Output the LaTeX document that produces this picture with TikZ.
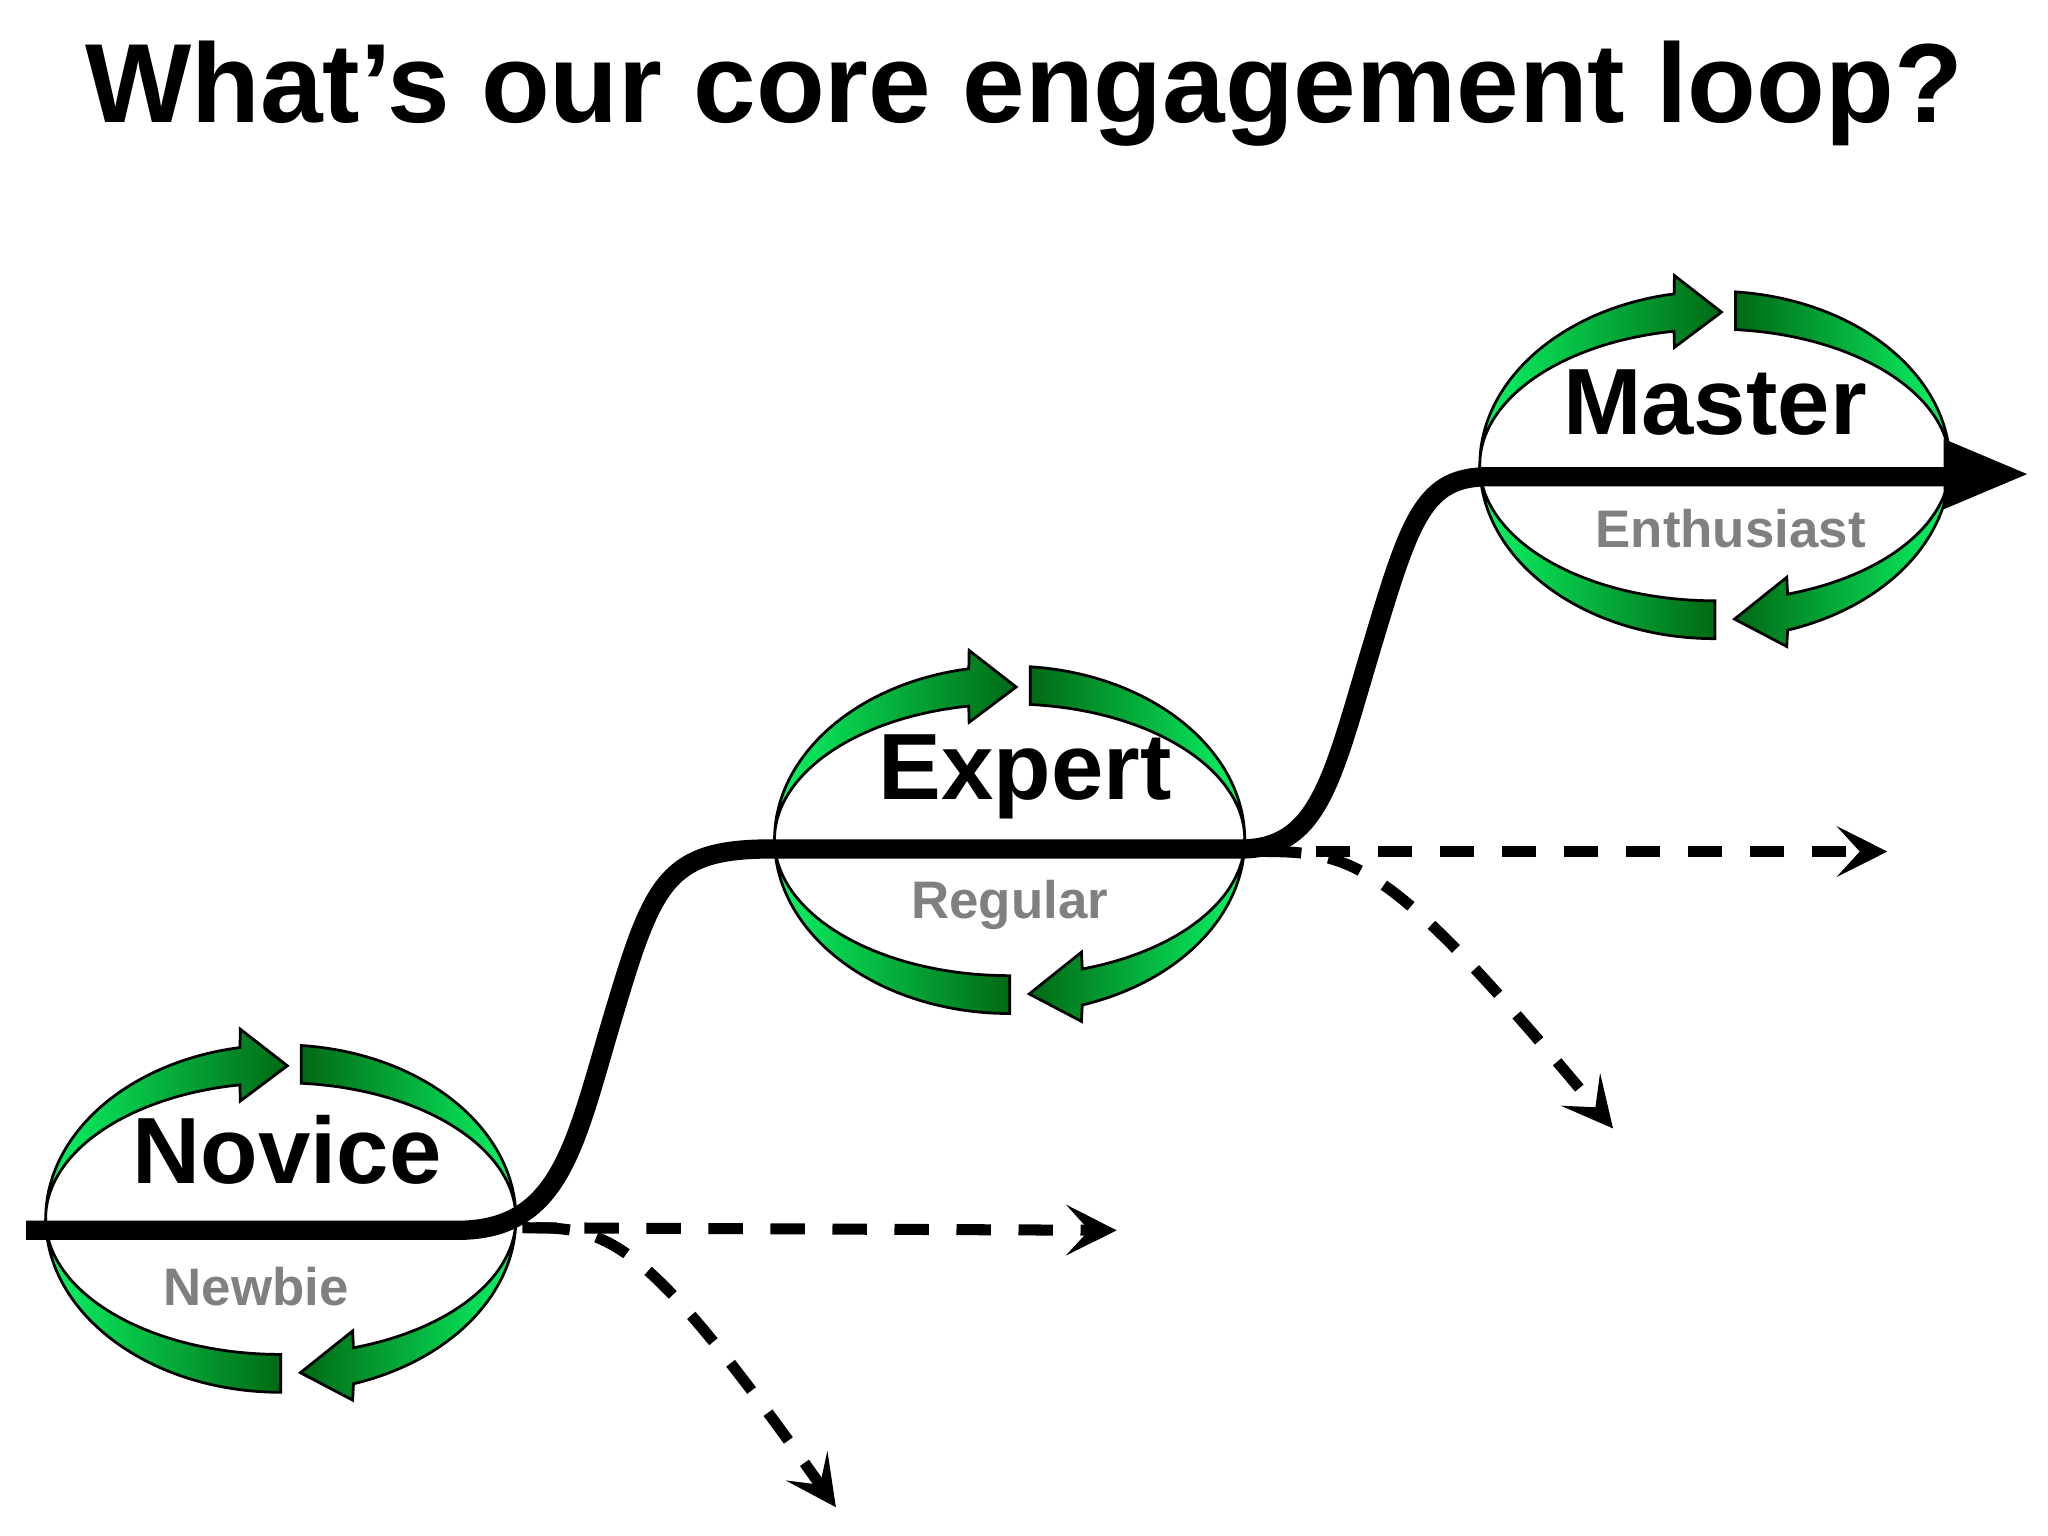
\documentclass[tikz,border=0pt]{standalone}
\usepackage{fontspec}
\setmainfont{Liberation Sans}
\usetikzlibrary{arrows.meta}
\definecolor{lg}{RGB}{10,245,100}
\definecolor{dg}{RGB}{0,105,20}
\definecolor{lblgray}{RGB}{128,128,128}
\tikzset{
  band/.style={draw=black, line width=0.6pt},
  stepline/.style={line width=4.2pt, black},
  dashline/.style={line width=2.4pt, dash pattern=on 7.5pt off 6pt, -{Stealth[length=11pt,width=11pt,inset=5pt]}},
  big/.style={font=\fontsize{20.5}{24}\selectfont\bfseries},
  small/.style={font=\fontsize{11.5}{14}\selectfont\bfseries, text=lblgray}
}
\newcommand\engloop[2]{%
\begin{scope}[shift={(#1,#2)}]
 \path[band, left color=lg, right color=dg] (-180,0) arc[start angle=180,end angle=100,x radius=180,y radius=133]
   -- (-31,145) -- (5,117) -- (-31,90) -- (-31.3,102.4)
   arc[start angle=100,end angle=180,x radius=180,y radius=104] -- cycle;
 \path[band, left color=dg, right color=lg] (15.7,132.5) arc[start angle=85,end angle=0,x radius=180,y radius=133]
   arc[start angle=0,end angle=85,x radius=180,y radius=104] -- cycle;
 \path[band, left color=dg, right color=lg] (180,0) arc[start angle=360,end angle=288,x radius=180,y radius=133]
   -- (55,-139) -- (15,-118) -- (55,-86) -- (55.6,-98.9)
   arc[start angle=288,end angle=360,x radius=180,y radius=104] -- cycle;
 \path[band, left color=lg, right color=dg] (0,-133) arc[start angle=270,end angle=180,x radius=180,y radius=133]
   arc[start angle=180,end angle=270,x radius=180,y radius=104] -- cycle;
\end{scope}}
\begin{document}
\begin{tikzpicture}[x=0.01cm,y=0.01cm]
\useasboundingbox (0,0) rectangle (1568,1176);
\node[font=\fontsize{24.5}{28}\selectfont\bfseries] (title) at (784,1104) {What’s our core engagement loop?};
\coordinate (n0) at (400,236); \coordinate (n1) at (855,234); \coordinate (n2) at (640,22);
\draw[dashline] (n0) -- (n1);
\draw[dashline] (410,236) .. controls (470,236) and (500,220) .. (n2);
\coordinate (e0) at (960,524); \coordinate (e1) at (1445,524); \coordinate (e2) at (1235,312);
\draw[dashline] (e0) -- (e1);
\draw[dashline] (970,524) .. controls (1040,524) and (1070,510) .. (e2);
\engloop{215}{243}
\engloop{773}{533}
\engloop{1313}{820}
\coordinate (s0) at (20,234);
\coordinate (s1) at (1490,811);
\draw[stepline] (s0) -- (350,234) .. controls (430,234) and (440,300) .. (470,400)
  .. controls (500,500) and (510,526) .. (590,526) -- (950,526)
  .. controls (1010,526) and (1020,580) .. (1050,680)
  .. controls (1080,780) and (1090,811) .. (1140,811) -- (s1);
\fill (1488,840) -- (1552,813) -- (1488,786) -- cycle;
\node[big] (novice) at (220,296) {Novice};
\node[small] (newbie) at (196,191) {Newbie};
\node[big] (expert) at (785,581) {Expert};
\node[small] (regular) at (773,483) {Regular};
\node[big] (master) at (1313,868) {Master};
\node[small] (enth) at (1325,771) {Enthusiast};
\end{tikzpicture}
\end{document}
